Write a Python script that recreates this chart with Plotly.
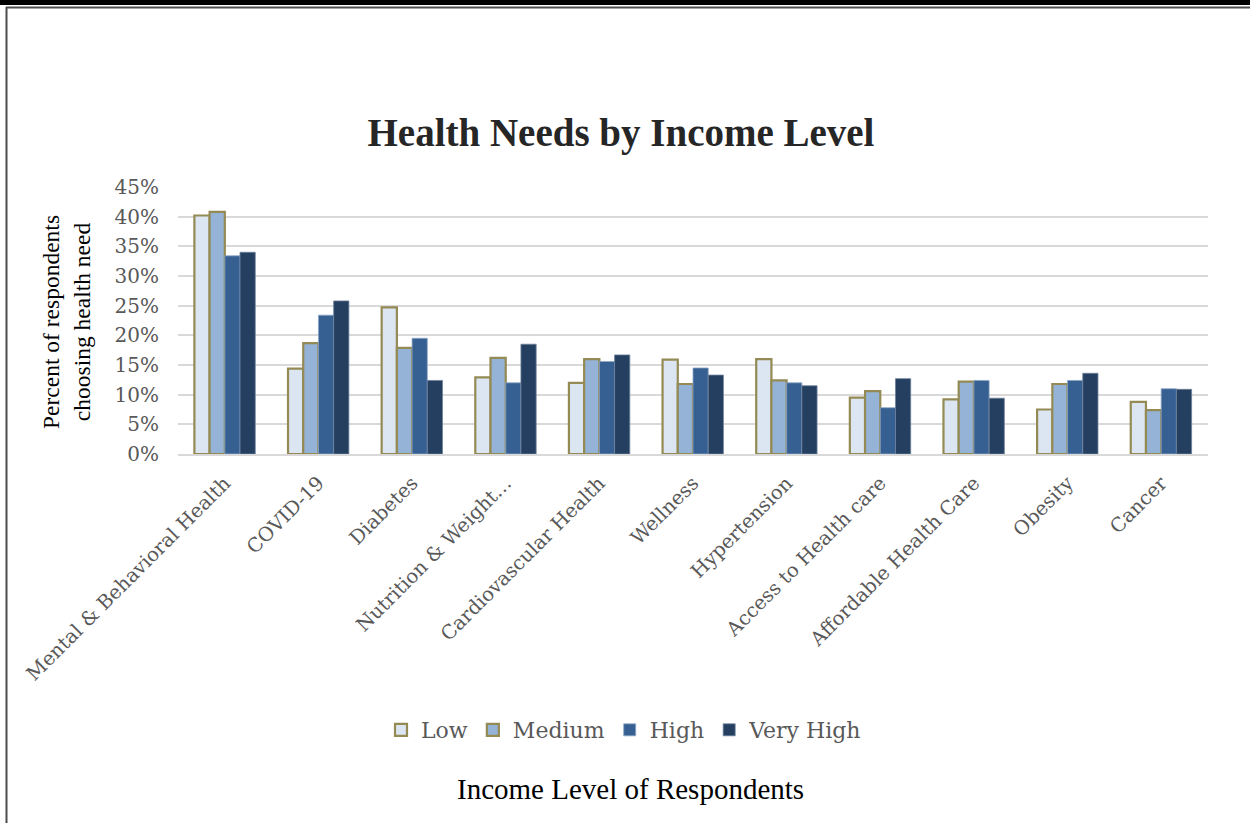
import plotly.graph_objects as go

categories = ["Mental & Behavioral Health", "COVID-19", "Diabetes", "Nutrition & Weight…",
              "Cardiovascular Health", "Wellness", "Hypertension", "Access to Health care",
              "Affordable Health Care", "Obesity", "Cancer"]
low = [40.2, 14.4, 24.7, 12.9, 12.0, 15.9, 16.0, 9.5, 9.2, 7.5, 8.8]
medium = [40.8, 18.7, 17.9, 16.2, 16.0, 11.8, 12.4, 10.6, 12.2, 11.8, 7.4]
high = [33.4, 23.4, 19.5, 12.0, 15.6, 14.5, 12.0, 7.8, 12.4, 12.4, 11.0]
very_high = [34.0, 25.8, 12.4, 18.5, 16.7, 13.3, 11.5, 12.7, 9.4, 13.6, 10.9]
series_names = ["Low", "Medium", "High", "Very High"]
tick_vals = [0, 0.05, 0.10, 0.15, 0.20, 0.25, 0.30, 0.35, 0.40, 0.45]

W, H = 1250, 823
L, R, T, B = 178, 42, 187, 369
PW, PH = W - L - R, H - T - B

def px(x):
    return (x - L) / PW

def py(y):
    return (H - B - y) / PH

fills = ["#DCE6F2", "#95B3D7", "#366092", "#243F60"]
lines = ["#948A54", "#948A54", "#8EA6C6", "#6E829C"]
widths = [2.2, 2.2, 0.8, 0.8]
data = [low, medium, high, very_high]

serif = "DejaVu Serif"
fig = go.Figure()
for name, vals, fc, lc, lw in zip(series_names, data, fills, lines, widths):
    fig.add_trace(go.Bar(
        x=categories, y=[v / 100 for v in vals], name=name,
        marker=dict(color=fc, line=dict(color=lc, width=lw)),
    ))

fig.update_layout(
    width=W, height=H,
    margin=dict(l=L, r=R, t=T, b=B, autoexpand=False),
    paper_bgcolor="white", plot_bgcolor="white",
    barmode="group", bargap=0.35, bargroupgap=0.0,
    title=dict(text="<b>Health Needs by Income Level</b>", x=621 / W, xanchor="center",
               y=1 - 132 / H, yanchor="middle",
               font=dict(family="Liberation Serif", size=39, color="#262626")),
    font=dict(family=serif, color="#595959"),
    showlegend=True,
    legend=dict(orientation="h", x=px(624), y=py(730), xanchor="center", yanchor="middle",
                font=dict(family=serif, size=22, color="#595959"),
                itemwidth=30, traceorder="normal"),
    xaxis=dict(tickangle=-45, tickfont=dict(family=serif, size=19.5, color="#595959"),
               showline=True, linecolor="#D9D9D9", linewidth=2, ticks="",
               ticklabelstandoff=8, showgrid=False, automargin=False),
    yaxis=dict(range=[0, 0.45], tickvals=tick_vals, tickformat=".0%",
               tickfont=dict(family=serif, size=20, color="#595959"),
               showgrid=True, gridcolor="#D9D9D9", gridwidth=2,
               zeroline=False, showline=False, ticks="", ticklabelstandoff=18,
               automargin=False),
)

fig.add_annotation(text="Percent of respondents<br>choosing health need", xref="paper", yref="paper",
                   x=px(66), y=py(322), xanchor="center", yanchor="middle",
                   textangle=-90, showarrow=False,
                   font=dict(family="Liberation Serif", size=23.5, color="black"))
fig.add_annotation(text="Income Level of Respondents", xref="paper", yref="paper",
                   x=px(630), y=py(789), showarrow=False, xanchor="center", yanchor="middle",
                   font=dict(family="Liberation Serif", size=29, color="black"))

# page frame
fig.add_shape(type="rect", xref="paper", yref="paper", x0=px(0), x1=px(W), y0=py(0), y1=py(5),
              fillcolor="black", line=dict(width=0), layer="above")
fig.add_shape(type="line", xref="paper", yref="paper", x0=px(6), x1=px(W), y0=py(7.5), y1=py(7.5),
              line=dict(color="#4D4D4D", width=2))
fig.add_shape(type="line", xref="paper", yref="paper", x0=px(6.5), x1=px(6.5), y0=py(7), y1=py(H),
              line=dict(color="#4D4D4D", width=2))

fig.write_html("out.html", config={"displayModeBar": False},
               post_script="document.body.style.margin='0';document.body.style.overflow='hidden';")
